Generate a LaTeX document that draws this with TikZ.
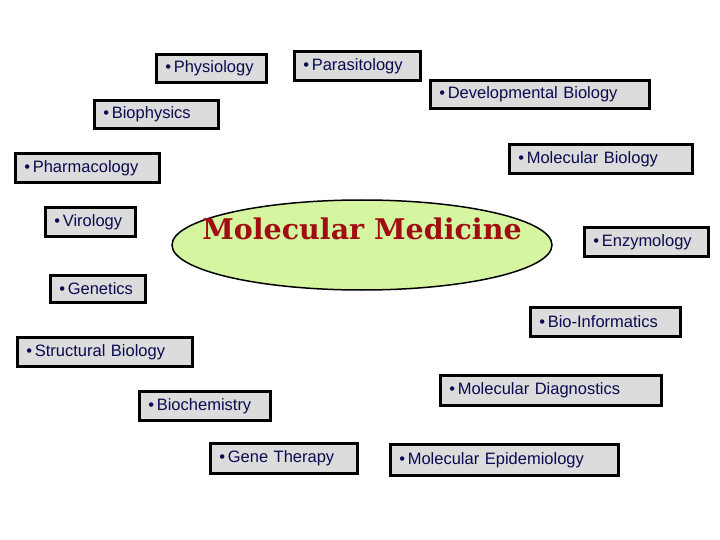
\documentclass[tikz,border=0pt]{standalone}
\usepackage{fontspec}
\setmainfont{Liberation Sans}
\newfontfamily\titlefont{DejaVu Serif}
\usetikzlibrary{shapes.geometric}
\definecolor{boxfill}{HTML}{DCDCDC}
\definecolor{txt}{HTML}{0A0A50}
\definecolor{ellfill}{HTML}{D6F5A0}
\definecolor{ttl}{HTML}{A00E14}
\begin{document}
\begin{tikzpicture}[x=1pt,y=-1pt,
  topic/.style={draw=black,line width=2.6pt,fill=boxfill,text=txt,font=\fontsize{16.5}{18}\selectfont,
    align=left,inner sep=0pt,anchor=north west}]
\useasboundingbox (0,0) rectangle (720,540);
\newcommand{\tbox}[6]{%
  \pgfmathsetmacro{\w}{#4-#2-2}\pgfmathsetmacro{\h}{#5-#3-2}%
  \node[topic,minimum width=\w pt,minimum height=\h pt,text width=\w pt-10pt] (#1) at (#2+1,#3+1) {\hspace*{4pt}\textbullet\,#6};}
\tbox{phy}{154}{52}{266}{82}{Physiology}
\tbox{par}{292}{49}{420}{80}{Parasitology}
\tbox{dev}{428}{78}{649}{108}{Developmental Biology}
\tbox{bph}{92}{98}{218}{128}{Biophysics}
\tbox{mol}{507}{142}{692}{173}{Molecular Biology}
\tbox{pha}{13}{151}{159}{182}{Pharmacology}
\tbox{vir}{43}{205}{135}{236}{Virology}
\tbox{enz}{582}{225}{708}{256}{Enzymology}
\tbox{gen}{48}{273}{145}{302}{Genetics}
\tbox{bio}{528}{305}{680}{336}{Bio-Informatics}
\tbox{str}{15}{335}{192}{366}{Structural Biology}
\tbox{dia}{438}{373}{661}{405}{Molecular Diagnostics}
\tbox{bch}{137}{389}{270}{420}{Biochemistry}
\tbox{gth}{208}{441}{357}{473}{Gene Therapy}
\tbox{epi}{388}{442}{618}{475}{Molecular Epidemiology}
\node[ellipse,draw=black,line width=1.5pt,fill=ellfill,minimum width=380pt,minimum height=90pt,inner sep=0pt] (mm) at (362,245) {};
\node[text=ttl,font=\titlefont\bfseries\fontsize{28.5}{30}\selectfont] (mmt) at (362,229) {Molecular Medicine};
\end{tikzpicture}
\end{document}
